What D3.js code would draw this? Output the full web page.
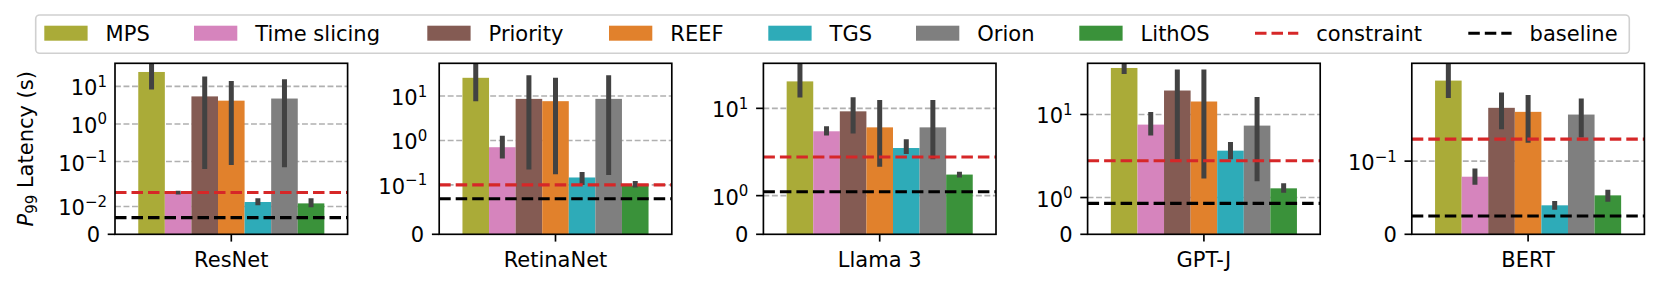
<!DOCTYPE html>
<meta charset="utf-8">
<style>
body { margin: 0; background: #fff; }
svg text { font-family: 'DejaVu Sans', sans-serif; }
</style>
<body>
<svg id="chart"></svg>
<script src="https://d3js.org/d3.v7.min.js"></script>
<script>
// models (one panel each) and methods (one bar each)
var models = ["ResNet", "RetinaNet", "Llama 3", "GPT-J", "BERT"];
var methods = ["MPS", "Time slicing", "Priority", "REEF", "TGS", "Orion", "LithOS"];
var colors = ["#aaab38", "#d684bd", "#845b53", "#e1812c", "#2eabb8", "#7f7f7f", "#3a923a"];

// P99 latency (s), one array per model, in the order of methods
var resnet    = [24.1, 0.0151, 5.4, 4.16, 0.0116, 4.74, 0.0111];
var retinanet = [25.7, 0.705, 8.63, 7.66, 0.147, 8.63, 0.0987];
var llama     = [24.4, 4.68, 9.06, 5.33, 2.69, 5.33, 1.545];
var gptj      = [50.4, 7.03, 23.0, 15.7, 2.84, 6.79, 1.25];
var bert      = [0.628, 0.0787, 0.302, 0.271, 0.0396, 0.252, 0.0532];

// error bar ends
var resnetLo    = [8.3, 0.0143, 0.0634, 0.081, 0.0104, 0.0704, 0.0097];
var resnetHi    = [80, 0.0167, 18.2, 13.9, 0.0129, 15.4, 0.0129];
var retinanetLo = [7.66, 0.393, 0.222, 0.174, 0.1, 0.168, 0.095];
var retinanetHi = [90, 1.27, 29.5, 25.7, 0.196, 29.5, 0.123];
var llamaLo     = [14.3, 4.06, 4.34, 1.75, 2.21, 1.94, 1.47];
var llamaHi     = [80, 5.52, 14.4, 13.2, 3.59, 13.2, 1.62];
var gptjLo      = [40.8, 4.8, 2.1, 1.52, 2.1, 1.44, 1.13];
var gptjHi      = [90, 10.9, 47.6, 47.6, 3.84, 18.4, 1.386];
var bertLo      = [0.394, 0.0678, 0.17, 0.125, 0.0337, 0.136, 0.0446];
var bertHi      = [2, 0.090, 0.455, 0.427, 0.0455, 0.387, 0.061];

// per-panel reference lines and axis settings
var constraint = [0.015, 0.1, 2, 2, 0.13];
var baseline   = [0.006, 0.072, 1.10, 0.84, 0.025];
var yMax       = [41, 54.5, 44.4, 59.3, 1.0];
var yTickExp   = [[-2, -1, 0, 1], [-1, 0, 1], [0, 1], [0, 1], [-1]];

var values = [resnet, retinanet, llama, gptj, bert];
var lows = [resnetLo, retinanetLo, llamaLo, gptjLo, bertLo];
var highs = [resnetHi, retinanetHi, llamaHi, gptjHi, bertHi];

var width = 1660, height = 287;
var panelW = 232.6, panelH = 171, panelTop = 63.3, firstLeft = 115, step = 324.2;
var fontSize = 21;
// the first two panels have no tick marks on the powers of ten
var powTickLen = [0, 0, 7.3, 7.3, 7.3];
var powLabelGap = [8, 12, 15, 15, 15];

var svg = d3.select("#chart").attr("width", width).attr("height", height);

// matplotlib-style symlog (base 10, linscale 1), linthresh = t
function symlog(v, t) {
  var L = 1 / (1 - 0.1);
  return v <= t ? v / t * L : L + Math.log10(v / t);
}

var x = d3.scaleBand().domain(methods).range([0.1 * panelW, 0.9 * panelW]).padding(0);

models.forEach(function(model, i) {
  var t = constraint[i];
  var lin = d3.scaleLinear().domain([0, symlog(yMax[i], t)]).range([panelH, 0]);
  var y = function(v) { return lin(symlog(v, t)); };

  var g = svg.append("g")
      .attr("transform", "translate(" + (firstLeft + i * step) + "," + panelTop + ")");

  g.append("clipPath").attr("id", "clip" + i)
    .append("rect").attr("width", panelW).attr("height", panelH);

  var plot = g.append("g").attr("clip-path", "url(#clip" + i + ")");

  // grid
  plot.selectAll(".grid")
      .data(yTickExp[i])
    .enter().append("line")
      .attr("x1", 0).attr("x2", panelW)
      .attr("y1", function(e) { return y(Math.pow(10, e)); })
      .attr("y2", function(e) { return y(Math.pow(10, e)); })
      .attr("stroke", "#b0b0b0")
      .attr("stroke-width", 1.6)
      .attr("stroke-dasharray", "5.9,2.6");

  // bars
  plot.selectAll(".bar")
      .data(values[i])
    .enter().append("rect")
      .attr("x", function(d, j) { return x(methods[j]); })
      .attr("width", x.bandwidth())
      .attr("y", function(d) { return y(d); })
      .attr("height", function(d) { return panelH - y(d); })
      .attr("fill", function(d, j) { return colors[j]; });

  // error bars
  plot.selectAll(".err")
      .data(values[i])
    .enter().append("line")
      .attr("x1", function(d, j) { return x(methods[j]) + x.bandwidth() / 2; })
      .attr("x2", function(d, j) { return x(methods[j]) + x.bandwidth() / 2; })
      .attr("y1", function(d, j) { return y(lows[i][j]); })
      .attr("y2", function(d, j) { return y(highs[i][j]); })
      .attr("stroke", "#424242")
      .attr("stroke-width", 5);

  // constraint and baseline
  [[constraint[i], "#d62728"], [baseline[i], "#000000"]].forEach(function(h) {
    plot.append("line")
      .attr("x1", 0).attr("x2", panelW)
      .attr("y1", y(h[0])).attr("y2", y(h[0]))
      .attr("stroke", h[1])
      .attr("stroke-width", 3.1)
      .attr("stroke-dasharray", "11.5,5");
  });

  // frame
  g.append("rect")
      .attr("width", panelW).attr("height", panelH)
      .attr("fill", "none").attr("stroke", "#000").attr("stroke-width", 1.67);

  // y ticks: 0 and the powers of ten
  var ticks = [null].concat(yTickExp[i]);
  ticks.forEach(function(e) {
    var isZero = e === null;
    var ty = isZero ? panelH : y(Math.pow(10, e));
    var len = isZero ? 7.3 : powTickLen[i];
    if (len > 0) {
      g.append("line")
        .attr("x1", -len).attr("x2", 0)
        .attr("y1", ty).attr("y2", ty)
        .attr("stroke", "#000").attr("stroke-width", 1.67);
    }
    var label = g.append("text")
      .attr("x", isZero ? -15 : -powLabelGap[i])
      .attr("text-anchor", "end")
      .attr("font-size", fontSize);
    if (isZero) {
      label.attr("y", ty + 7.6).text("0");
    } else {
      label.attr("y", ty + 9);
      label.append("tspan").text("10");
      label.append("tspan")
        .attr("dy", -8.5)
        .attr("font-size", 15)
        .text(e < 0 ? "\u2212" + (-e) : e);
    }
  });

  // x tick and label
  g.append("line")
      .attr("x1", panelW / 2).attr("x2", panelW / 2)
      .attr("y1", panelH).attr("y2", panelH + 7.3)
      .attr("stroke", "#000").attr("stroke-width", 1.67);
  g.append("text")
      .attr("x", panelW / 2)
      .attr("y", panelH + 32.5)
      .attr("text-anchor", "middle")
      .attr("font-size", fontSize)
      .text(model);
});

// y-axis title
var yt = svg.append("text")
    .attr("transform", "translate(33," + (panelTop + panelH / 2) + ") rotate(-90)")
    .attr("text-anchor", "middle")
    .attr("font-size", fontSize);
yt.append("tspan").attr("font-style", "italic").text("P");
yt.append("tspan").attr("font-size", 15).attr("dy", 4).text("99");
yt.append("tspan").attr("dy", -4).text(" Latency (s)");

// legend
var legend = svg.append("g");
legend.append("rect")
    .attr("x", 35.7).attr("y", 15)
    .attr("width", 1629.3 - 35.7).attr("height", 38.3)
    .attr("rx", 4)
    .attr("fill", "#fff").attr("stroke", "#d0d0d0").attr("stroke-width", 1.6);

var legendX = [44.3, 194, 427.3, 609, 768.3, 916, 1079.3, 1255, 1468.3];
var legendLabels = methods.concat(["constraint", "baseline"]);
legendLabels.forEach(function(name, k) {
  var lx = legendX[k];
  if (k < methods.length) {
    legend.append("rect")
      .attr("x", lx).attr("y", 25.7)
      .attr("width", 43.3).attr("height", 15)
      .attr("fill", colors[k]);
  } else {
    legend.append("line")
      .attr("x1", lx).attr("x2", lx + 43.3)
      .attr("y1", 33.2).attr("y2", 33.2)
      .attr("stroke", k === methods.length ? "#d62728" : "#000")
      .attr("stroke-width", 3.1)
      .attr("stroke-dasharray", "11.5,5");
  }
  legend.append("text")
    .attr("x", lx + 61.3)
    .attr("y", 40.7)
    .attr("font-size", fontSize)
    .text(name);
});
</script>
</body>
